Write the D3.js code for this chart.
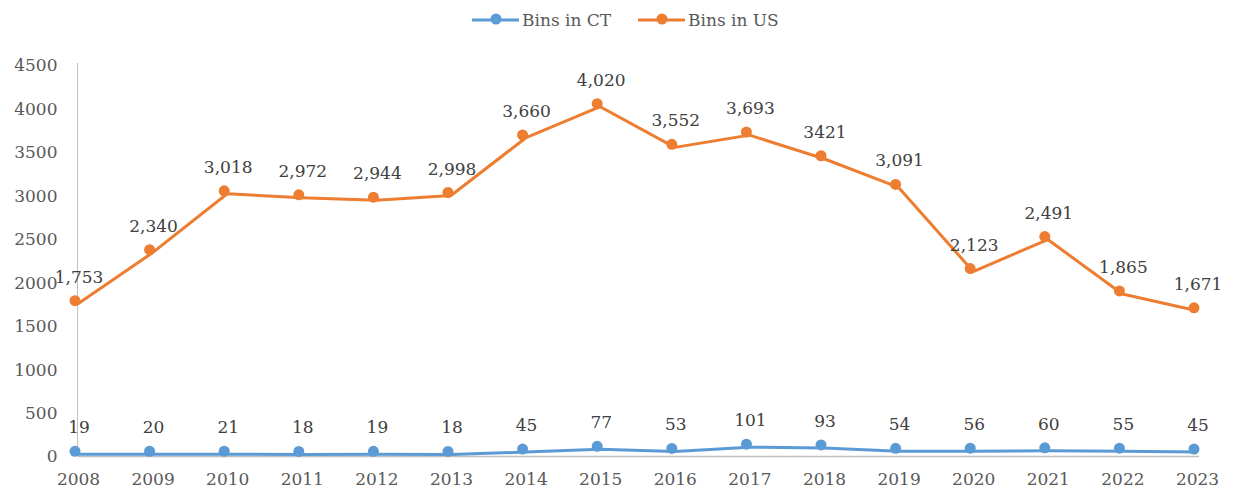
<!DOCTYPE html>
<meta charset="utf-8">
<head>
	<title>Bins in CT and US</title>
	<script type="text/javascript" src="https://cdn.jsdelivr.net/npm/d3@7"></script>
	<style>
		body { margin: 0; background: #fff; }
		text { font-family: "DejaVu Serif", serif; fill: #595959; }
		.axis path, .axis line { stroke: #BFBFBF; }
	</style>
</head>
<body>
	<div id="chart"></div>
	<script>
		// data
		var years = ["2008","2009","2010","2011","2012","2013","2014","2015","2016","2017","2018","2019","2020","2021","2022","2023"];
		var binsCT = [19, 20, 21, 18, 19, 18, 45, 77, 53, 101, 93, 54, 56, 60, 55, 45];
		var binsUS = [1753, 2340, 3018, 2972, 2944, 2998, 3660, 4020, 3552, 3693, 3421, 3091, 2123, 2491, 1865, 1671];
		var usLabels = ["1,753","2,340","3,018","2,972","2,944","2,998","3,660","4,020","3,552","3,693","3421","3,091","2,123","2,491","1,865","1,671"];
		var yTicks = [0, 500, 1000, 1500, 2000, 2500, 3000, 3500, 4000, 4500];

		var w = 1235, h = 495;
		var margin = {left: 78, right: 38, top: 65, bottom: 39};

		var svg = d3.select("#chart").append("svg")
			.attr("width", w).attr("height", h);

		var x = d3.scalePoint()
			.domain(years)
			.range([margin.left, w - margin.right]);

		var y = d3.scaleLinear()
			.domain([0, 4500])
			.range([h - margin.bottom, margin.top]);

		// y axis: line only, labels to the left
		var yAxis = d3.axisLeft(y).tickValues(yTicks).tickFormat(d3.format("d")).tickSize(0).tickPadding(20);
		var gY = svg.append("g")
			.attr("class", "axis")
			.attr("transform", "translate(" + (margin.left - 0.5) + ",0)")
			.call(yAxis);
		gY.select(".domain").attr("d", "M0," + (margin.top - 2) + "V" + y(0));
		gY.selectAll("text").style("font-size", "17px").attr("dy", "0.35em");

		// x axis
		var xAxis = d3.axisBottom(x).tickSize(0).tickPadding(16);
		var gX = svg.append("g")
			.attr("class", "axis")
			.attr("transform", "translate(0," + (y(0) + 0.5) + ")")
			.call(xAxis);
		gX.select(".domain").attr("d", "M" + margin.left + ",0H" + (w - margin.right + 2)).attr("stroke-width", 1.5);
		gX.selectAll("text").style("font-size", "17px");

		var series = [
			{name: "Bins in CT", values: binsCT, labels: binsCT.map(String), color: "#5B9BD5"},
			{name: "Bins in US", values: binsUS, labels: usLabels, color: "#ED7D31"}
		];

		var line = d3.line()
			.x(function(d, i) { return x(years[i]); })
			.y(function(d) { return y(d); });

		series.forEach(function(s) {
			var g = svg.append("g");
			g.append("path")
				.datum(s.values)
				.attr("d", line)
				.attr("fill", "none")
				.attr("stroke", s.color)
				.attr("stroke-width", 3)
				.attr("stroke-linejoin", "round");

			// markers sit a little up-left of the line, as in the original
			g.selectAll("circle")
				.data(s.values).enter()
				.append("circle")
				.attr("cx", function(d, i) { return x(years[i]) - 3; })
				.attr("cy", function(d) { return y(d) - 3; })
				.attr("r", 5.5)
				.attr("fill", s.color);

			g.selectAll("text.lbl")
				.data(s.values).enter()
				.append("text")
				.attr("class", "lbl")
				.attr("x", function(d, i) { return x(years[i]) + 1; })
				.attr("y", function(d) { return y(d) - 21; })
				.attr("text-anchor", "middle")
				.style("font-size", "17px")
				.style("fill", "#404040")
				.text(function(d, i) { return s.labels[i]; });
		});

		// legend
		var legendPos = [472, 638];
		var legend = svg.append("g").selectAll("g")
			.data(series).enter()
			.append("g")
			.attr("transform", function(d, i) { return "translate(" + legendPos[i] + ",20)"; });
		legend.append("line")
			.attr("x1", 0).attr("x2", 47)
			.attr("stroke", function(d) { return d.color; })
			.attr("stroke-width", 3);
		legend.append("circle")
			.attr("cx", 24).attr("cy", -1).attr("r", 5.5)
			.attr("fill", function(d) { return d.color; });
		legend.append("text")
			.attr("x", 50).attr("dy", "0.35em")
			.style("font-size", "17px")
			.text(function(d) { return d.name; });
	</script>
</body>
</html>
